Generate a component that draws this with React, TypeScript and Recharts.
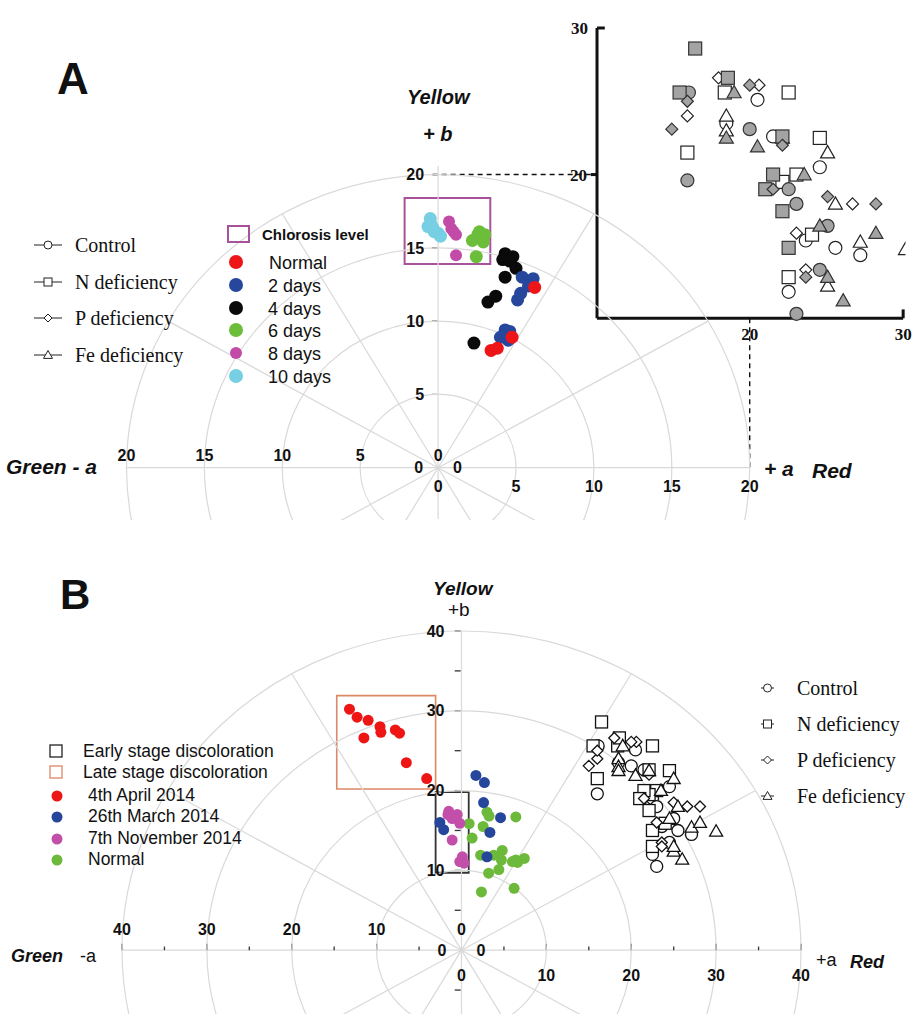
import React from 'react'
import { ScatterChart, Scatter, XAxis, YAxis, ReferenceLine, ReferenceDot, ReferenceArea } from 'recharts'

// ---- panel A: CIELab a*/b* of leaves by chlorosis level ----
const normalA = [{ a: 6.2, b: 12.3 }, { a: 3.4, b: 8.0 }, { a: 3.8, b: 8.15 }, { a: 4.75, b: 8.9 }]
const day2A = [{ a: 5.4, b: 13.0 }, { a: 6.1, b: 12.9 }, { a: 5.8, b: 12.4 }, { a: 5.3, b: 11.9 }, { a: 5.1, b: 11.45 }, { a: 4.3, b: 9.4 }, { a: 4.6, b: 9.3 }, { a: 4.5, b: 8.7 }, { a: 4.0, b: 8.9 }]
const day4A = [{ a: 4.3, b: 14.6 }, { a: 4.8, b: 14.4 }, { a: 4.15, b: 14.2 }, { a: 4.6, b: 14.1 }, { a: 5.0, b: 13.6 }, { a: 4.3, b: 13.0 }, { a: 3.7, b: 11.7 }, { a: 3.2, b: 11.3 }, { a: 2.3, b: 8.5 }]
const day6A = [{ a: 2.2, b: 15.5 }, { a: 2.55, b: 15.9 }, { a: 2.65, b: 16.1 }, { a: 2.9, b: 15.4 }, { a: 3.0, b: 15.9 }, { a: 2.8, b: 15.6 }, { a: 2.45, b: 14.4 }]
const day8A = [{ a: 0.7, b: 16.8 }, { a: 0.85, b: 16.3 }, { a: 1.0, b: 16.1 }, { a: 1.15, b: 15.9 }, { a: 1.15, b: 14.5 }]
const day10A = [{ a: -0.5, b: 17.0 }, { a: -0.65, b: 16.45 }, { a: -0.45, b: 16.6 }, { a: -0.25, b: 16.1 }, { a: 0.0, b: 16.0 }, { a: 0.15, b: 15.8 }, { a: -0.3, b: 16.3 }]

// nutrient deficiency leaves (inset of A, repeated in B)
const controlOpen = [{ a: 20.5, b: 25.1 }, { a: 18.5, b: 23.5 }, { a: 21.5, b: 22.6 }, { a: 24.5, b: 20.5 }, { a: 23.6, b: 15.5 }, { a: 25.5, b: 15.0 }, { a: 27.1, b: 14.5 }, { a: 22.5, b: 12.0 }]
const controlGrey = [{ a: 16.1, b: 25.6 }, { a: 20.0, b: 23.1 }, { a: 16.0, b: 19.6 }, { a: 22.5, b: 19.0 }, { a: 23.0, b: 18.0 }, { a: 25.0, b: 16.5 }, { a: 24.5, b: 13.5 }, { a: 23.0, b: 10.5 }]
const nOpen = [{ a: 18.4, b: 25.6 }, { a: 22.5, b: 25.6 }, { a: 16.0, b: 21.5 }, { a: 24.5, b: 22.5 }, { a: 23.0, b: 20.0 }, { a: 22.1, b: 19.5 }, { a: 24.0, b: 15.9 }, { a: 22.5, b: 13.0 }]
const nGrey = [{ a: 16.5, b: 28.6 }, { a: 18.6, b: 26.6 }, { a: 15.5, b: 25.6 }, { a: 22.1, b: 22.6 }, { a: 21.5, b: 20.0 }, { a: 21.0, b: 19.0 }, { a: 22.1, b: 17.5 }, { a: 22.5, b: 15.0 }]
const pOpen = [{ a: 18.0, b: 26.6 }, { a: 20.6, b: 26.1 }, { a: 16.0, b: 24.0 }, { a: 26.6, b: 18.0 }, { a: 23.0, b: 16.0 }, { a: 23.6, b: 13.5 }]
const pGrey = [{ a: 20.0, b: 26.1 }, { a: 16.0, b: 25.0 }, { a: 15.0, b: 23.1 }, { a: 22.1, b: 22.0 }, { a: 21.5, b: 19.0 }, { a: 25.0, b: 18.5 }, { a: 28.1, b: 18.0 }, { a: 23.6, b: 13.0 }]
const feOpen = [{ a: 18.5, b: 24.0 }, { a: 18.5, b: 23.0 }, { a: 22.1, b: 22.5 }, { a: 25.0, b: 21.5 }, { a: 25.5, b: 18.0 }, { a: 27.1, b: 15.4 }, { a: 30.0, b: 14.9 }, { a: 25.0, b: 12.4 }]
const feGrey = [{ a: 19.0, b: 25.6 }, { a: 18.5, b: 22.5 }, { a: 20.5, b: 21.9 }, { a: 23.5, b: 20.0 }, { a: 24.5, b: 16.5 }, { a: 28.1, b: 16.0 }, { a: 25.0, b: 13.0 }, { a: 26.0, b: 11.4 }]

// ---- panel B: field samples ----
const april4B = [{ a: -13.2, b: 30.2 }, { a: -12.3, b: 29.2 }, { a: -11.0, b: 28.8 }, { a: -11.5, b: 26.6 }, { a: -9.6, b: 28.0 }, { a: -9.5, b: 27.3 }, { a: -7.8, b: 27.6 }, { a: -7.3, b: 27.2 }, { a: -6.5, b: 23.5 }, { a: -4.1, b: 21.5 }]
const march26B = [{ a: 1.7, b: 21.9 }, { a: 2.7, b: 21.0 }, { a: 2.6, b: 18.5 }, { a: 4.6, b: 16.6 }, { a: 3.35, b: 14.75 }, { a: -2.55, b: 16.0 }, { a: -2.1, b: 15.1 }, { a: 3.0, b: 11.7 }]
const november7B = [{ a: -1.5, b: 17.4 }, { a: -0.5, b: 17.0 }, { a: -1.1, b: 16.5 }, { a: -0.2, b: 15.9 }, { a: -1.6, b: 17.0 }, { a: -1.1, b: 13.8 }, { a: 0.1, b: 11.7 }, { a: 0.3, b: 10.9 }, { a: -0.2, b: 11.1 }]
const normalB = [{ a: 0.9, b: 15.85 }, { a: 1.25, b: 14.05 }, { a: 2.55, b: 15.5 }, { a: 3.0, b: 17.3 }, { a: 3.25, b: 16.8 }, { a: 6.4, b: 16.7 }, { a: 2.25, b: 11.9 }, { a: 3.8, b: 11.9 }, { a: 4.8, b: 12.5 }, { a: 4.7, b: 11.3 }, { a: 3.2, b: 9.65 }, { a: 4.4, b: 10.1 }, { a: 6.4, b: 11.3 }, { a: 7.4, b: 11.5 }, { a: 6.2, b: 7.75 }, { a: 2.35, b: 7.3 }, { a: 6.0, b: 11.1 }, { a: 6.6, b: 11.0 }]

const ringsA = [5, 10, 15, 20]
const ringsB = [10, 20, 30, 40]
const spokeAngles = [30, 60, 120, 150, 210, 240, 300, 330]
const axisTicksA = [5, 10, 15, 20]
const axisTicksB = [10, 20, 30, 40]
const minorTicksB = [5, 15, 25, 35]

const legendA1 = ['Control', 'N deficiency', 'P deficiency', 'Fe deficiency']
const legendA2 = ['Normal', '2 days', '4 days', '6 days', '8 days', '10 days']
const legendB = ['4th April 2014', '26th March 2014', '7th November 2014', 'Normal']

const SANS = 'Arial, "Liberation Sans", Helvetica, sans-serif'
const SERIF = '"Times New Roman", "Liberation Serif", serif'
const GRID = '#d9d9d9'

const colA = ['#ee1518', '#27479d', '#0a0a0a', '#6cbd3a', '#c24ba8', '#76cfe2']
const colB = ['#ee1515', '#26469c', '#c24fa9', '#6cb93c']

const A = { w: 920, h: 520, ml: 126.5, mr: 14.5, mt: 28, mb: 1, x: [-20, 30], y: [-3.5, 30] }
const B = { w: 920, h: 444, ml: 122, mr: 119, mt: 61, mb: 0, x: [-40, 40], y: [-8, 40] }
// inset frame of panel A (in a*, b* units)
const INSET = { x0: 10.2, x1: 29.85, y0: 10.2, y1: 30 }

type Kind = 'circle' | 'square' | 'diamond' | 'triangle'
const KINDS: Kind[] = ['circle', 'square', 'diamond', 'triangle']

function drawShape(kind: Kind, cx: number, cy: number, s: number, fill: string, stroke: string, sw: number) {
  const h = s / 2
  if (kind === 'circle') return <circle cx={cx} cy={cy} r={h} fill={fill} stroke={stroke} strokeWidth={sw} />
  if (kind === 'square') return <rect x={cx - h} y={cy - h} width={s} height={s} fill={fill} stroke={stroke} strokeWidth={sw} />
  if (kind === 'diamond')
    return <polygon points={`${cx},${cy - h} ${cx + h},${cy} ${cx},${cy + h} ${cx - h},${cy}`} fill={fill} stroke={stroke} strokeWidth={sw} />
  return <polygon points={`${cx},${cy - h} ${cx + h},${cy + h * 0.75} ${cx - h},${cy + h * 0.75}`} fill={fill} stroke={stroke} strokeWidth={sw} />
}

const marker = (kind: Kind, s: number, fill: string, stroke: string, sw = 1.2) => (p: any) =>
  drawShape(kind, p.cx, p.cy, s, fill, stroke, sw)

const dot = (r: number, fill: string) => (p: any) => <circle cx={p.cx} cy={p.cy} r={r} fill={fill} />

function rings(list: number[], sx: number, sy: number) {
  return list.map((r) => (
    <ReferenceDot
      key={'ring' + r}
      x={0}
      y={0}
      r={r}
      ifOverflow="visible"
      shape={(p: any) => <ellipse cx={p.cx} cy={p.cy} rx={r * sx} ry={r * sy} fill="none" stroke={GRID} strokeWidth={1.2} />}
    />
  ))
}

function spokes(len: number) {
  return spokeAngles.map((t) => {
    const rad = (t * Math.PI) / 180
    return (
      <ReferenceLine
        key={'sp' + t}
        segment={[{ x: 0, y: 0 }, { x: len * Math.cos(rad), y: len * Math.sin(rad) }]}
        stroke={GRID}
        strokeWidth={1.2}
        ifOverflow="visible"
      />
    )
  })
}

function seg(key: string, x1: number, y1: number, x2: number, y2: number, stroke: string, sw: number, dash?: string) {
  return (
    <ReferenceLine key={key} segment={[{ x: x1, y: y1 }, { x: x2, y: y2 }]} stroke={stroke} strokeWidth={sw} strokeDasharray={dash} ifOverflow="visible" />
  )
}

function lab(key: string, x: number, y: number, value: string, position: string, offset: number, size = 16, family = SANS) {
  return (
    <ReferenceDot
      key={key}
      x={x}
      y={y}
      r={0}
      fill="none"
      stroke="none"
      ifOverflow="visible"
      label={{ value, position, offset, fill: '#111', fontSize: size, fontWeight: 'bold', fontFamily: family } as any}
    />
  )
}

function PanelA() {
  const sx = (A.w - A.ml - A.mr) / (A.x[1] - A.x[0])
  const sy = (A.h - A.mt - A.mb) / (A.y[1] - A.y[0])
  const greys = [controlGrey, nGrey, pGrey, feGrey]
  const opens = [controlOpen, nOpen, pOpen, feOpen]
  const sizes = [13, 13, 12, 14]
  const I = INSET
  return (
    <ScatterChart width={A.w} height={A.h} margin={{ top: A.mt, right: A.mr, bottom: A.mb, left: A.ml }}>
      <XAxis type="number" dataKey="a" domain={A.x} allowDataOverflow hide />
      <YAxis type="number" dataKey="b" domain={A.y} allowDataOverflow hide />
      {rings(ringsA, sx, sy)}
      {spokes(20)}
      {seg('hx', -20, 0, 20, 0, GRID, 1.2)}
      {seg('vy', 0, -3.5, 0, 20.6, GRID, 1.2)}
      {axisTicksA.map((v) => seg('tk' + v, -0.4, v, -0.05, v, '#333', 1.2))}
      {axisTicksA.map((v) => lab('yl' + v, 0, v, String(v), 'left', 14))}
      {axisTicksA.map((v) => lab('xl' + v, -v, 0, String(v), 'top', 7))}
      {axisTicksA.map((v) => lab('xr' + v, v, 0, String(v), 'bottom', 13))}
      {lab('z1', 0, 0, '0', 'top', 7)}
      {lab('z2', 0, 0, '0', 'left', 15)}
      {lab('z3', 0, 0, '0', 'right', 15)}
      {lab('z4', 0, 0, '0', 'bottom', 13)}
      {/* inset frame */}
      {seg('dh', -0.35, 20, I.x0, 20, '#111', 1.4, '5 4')}
      {seg('dv', 20, I.y0, 20, 0, '#111', 1.4, '5 4')}
      {seg('ix', I.x0, I.y0, I.x1, I.y0, '#111', 3)}
      {seg('iy', I.x0, I.y0, I.x0, I.y1, '#111', 3)}
      {seg('it1', I.x0, I.y1, I.x0 + 0.5, I.y1, '#111', 3)}
      {seg('it2', I.x0 - 0.4, 20, I.x0, 20, '#111', 3)}
      {seg('it3', I.x1, I.y0, I.x1, I.y0 + 0.6, '#111', 3)}
      {lab('il1', I.x0, I.y1, '30', 'left', 9, 17, SERIF)}
      {lab('il2', I.x0, 20, '20', 'left', 10, 17, SERIF)}
      {lab('il3', 20, I.y0, '20', 'bottom', 10, 17, SERIF)}
      {lab('il4', I.x1, I.y0, '30', 'bottom', 10, 17, SERIF)}
      {opens.map((d, i) => (
        <Scatter key={'o' + i} data={d} dataKey="b" isAnimationActive={false} shape={marker(KINDS[i], sizes[i], '#fff', '#222')} />
      ))}
      {greys.map((d, i) => (
        <Scatter key={'g' + i} data={d} dataKey="b" isAnimationActive={false} shape={marker(KINDS[i], sizes[i], '#a3a3a3', '#333')} />
      ))}
      <Scatter data={day10A} isAnimationActive={false} shape={dot(6.5, colA[5])} />
      <Scatter data={day8A} isAnimationActive={false} shape={dot(6, colA[4])} />
      <Scatter data={day6A} isAnimationActive={false} shape={dot(6.5, colA[3])} />
      <Scatter data={day4A} isAnimationActive={false} shape={dot(6.5, colA[2])} />
      <Scatter data={day2A} isAnimationActive={false} shape={dot(6.5, colA[1])} />
      <Scatter data={normalA} isAnimationActive={false} shape={dot(6.5, colA[0])} />
      <ReferenceArea x1={-2.15} x2={3.35} y1={13.9} y2={18.4} fill="none" stroke="#a8529b" strokeWidth={2} ifOverflow="visible" />
    </ScatterChart>
  )
}

function PanelB() {
  const sx = (B.w - B.ml - B.mr) / (B.x[1] - B.x[0])
  const sy = (B.h - B.mt - B.mb) / (B.y[1] - B.y[0])
  const groups = [
    [...controlOpen, ...controlGrey],
    [...nOpen, ...nGrey],
    [...pOpen, ...pGrey],
    [...feOpen, ...feGrey],
  ]
  const sizes = [12, 12, 11, 13]
  return (
    <ScatterChart width={B.w} height={B.h} margin={{ top: B.mt, right: B.mr, bottom: B.mb, left: B.ml }}>
      <XAxis type="number" dataKey="a" domain={B.x} allowDataOverflow hide />
      <YAxis type="number" dataKey="b" domain={B.y} allowDataOverflow hide />
      {rings(ringsB, sx, sy)}
      {spokes(40)}
      {seg('hx', -40, 0, 40, 0, GRID, 1.2)}
      {seg('vy', 0, -8, 0, 40, GRID, 1.2)}
      {[...axisTicksB, ...minorTicksB, -5].map((v) => seg('ty' + v, -0.8, v, -0.1, v, '#333', 1.3))}
      {axisTicksB.map((v) => lab('yl' + v, 0, v, String(v), 'left', 17))}
      {[...axisTicksB, ...minorTicksB].map((v) => [
        seg('txl' + v, -v, 0, -v, v % 10 === 0 ? 0.8 : 0.45, '#333', 1.3),
        seg('txr' + v, v, 0, v, v % 10 === 0 ? 0.8 : 0.45, '#333', 1.3),
      ])}
      {axisTicksB.map((v) => lab('xl' + v, -v, 0, String(v), 'top', 15))}
      {axisTicksB.map((v) => lab('xr' + v, v, 0, String(v), 'bottom', 19))}
      {lab('z1', 0, 0, '0', 'top', 15)}
      {lab('z2', 0, 0, '0', 'left', 15)}
      {lab('z3', 0, 0, '0', 'right', 15)}
      {lab('z4', 0, 0, '0', 'bottom', 19)}
      {groups.map((d, i) => (
        <Scatter key={'d' + i} data={d} isAnimationActive={false} shape={marker(KINDS[i], sizes[i], '#fff', '#111', 1.3)} />
      ))}
      <Scatter data={normalB} isAnimationActive={false} shape={dot(5.5, colB[3])} />
      <Scatter data={march26B} isAnimationActive={false} shape={dot(5.5, colB[1])} />
      <Scatter data={november7B} isAnimationActive={false} shape={dot(5.5, colB[2])} />
      <Scatter data={april4B} isAnimationActive={false} shape={dot(5.5, colB[0])} />
      <ReferenceArea x1={-14.7} x2={-3.05} y1={20.2} y2={31.9} fill="none" stroke="#dc8866" strokeWidth={1.6} ifOverflow="visible" />
      <ReferenceArea x1={-3.05} x2={0.85} y1={9.7} y2={19.8} fill="none" stroke="#333" strokeWidth={1.8} ifOverflow="visible" />
    </ScatterChart>
  )
}

function T({ x, y, size, children, bold, italic, family = SANS }: any) {
  return (
    <div
      style={{
        position: 'absolute',
        left: x,
        top: y,
        transform: 'translateY(-50%)',
        fontSize: size,
        lineHeight: 1,
        whiteSpace: 'nowrap',
        fontWeight: bold ? 'bold' : 'normal',
        fontStyle: italic ? 'italic' : 'normal',
        fontFamily: family,
        color: '#111',
      }}
    >
      {children}
    </div>
  )
}

function Sym({ x, y, kind, line, w = 30, s = 8 }: any) {
  return (
    <svg style={{ position: 'absolute', left: x - w / 2, top: y - 8 }} width={w} height={16}>
      {line && <line x1={0} y1={8} x2={w} y2={8} stroke="#222" strokeWidth={1} />}
      {drawShape(kind, w / 2, 8, s, '#fff', '#222', 1)}
    </svg>
  )
}

export default function App() {
  return (
    <div style={{ position: 'absolute', left: 0, top: 0, width: 920, height: 1014, background: '#fff', overflow: 'hidden' }}>
      <div style={{ position: 'absolute', left: 0, top: 0, width: 920, height: 520, overflow: 'hidden' }}>
        <PanelA />
      </div>
      <div style={{ position: 'absolute', left: 0, top: 570, width: 920, height: 444, overflow: 'hidden' }}>
        <PanelB />
      </div>

      {/* panel A texts */}
      <T x={57} y={79} size={44} bold>A</T>
      <T x={407} y={97} size={20} bold italic>Yellow</T>
      <T x={423} y={134} size={20} bold italic>+ b</T>
      <T x={6} y={466} size={21} bold italic>Green - a</T>
      <T x={764} y={468} size={21} bold italic>+ a</T>
      <T x={812} y={470} size={21} bold italic>Red</T>
      {legendA1.map((t, i) => (
        <React.Fragment key={t}>
          <Sym x={48} y={245 + i * 36.5} kind={KINDS[i]} line w={28} s={i === 3 ? 9 : 8} />
          <T x={75} y={245 + i * 36.5} size={20} family={SERIF}>{t}</T>
        </React.Fragment>
      ))}
      <svg style={{ position: 'absolute', left: 227, top: 225 }} width={24} height={19}>
        <rect x={1} y={1} width={21} height={16} fill="none" stroke="#a8529b" strokeWidth={2} />
      </svg>
      <T x={262} y={234} size={15} bold>Chlorosis level</T>
      {legendA2.map((t, i) => (
        <React.Fragment key={t}>
          <svg style={{ position: 'absolute', left: 228, top: 254 + i * 22.8 }} width={16} height={16}>
            <circle cx={8} cy={8} r={i === 4 ? 6 : 7} fill={colA[i]} />
          </svg>
          <T x={i === 0 ? 269 : 268} y={263 + i * 22.8} size={18}>{t}</T>
        </React.Fragment>
      ))}

      {/* panel B texts */}
      <T x={60} y={595} size={42} bold>B</T>
      <T x={433} y={588} size={19} bold italic>Yellow</T>
      <T x={448} y={609} size={19}>+b</T>
      <T x={11} y={956} size={18} bold italic>Green</T>
      <T x={80} y={956} size={18}>-a</T>
      <T x={816} y={960} size={18}>+a</T>
      <T x={850} y={962} size={18} bold italic>Red</T>
      {legendA1.map((t, i) => (
        <React.Fragment key={'b' + t}>
          <Sym x={767} y={688 + i * 36} kind={KINDS[i]} line w={13} s={i === 3 ? 9 : 8} />
          <T x={797} y={688 + i * 36} size={20} family={SERIF}>{t}</T>
        </React.Fragment>
      ))}
      <svg style={{ position: 'absolute', left: 49, top: 744 }} width={16} height={36}>
        <rect x={1} y={1} width={12} height={12} fill="none" stroke="#222" strokeWidth={1.3} />
        <rect x={1} y={22} width={12} height={12} fill="none" stroke="#dc8866" strokeWidth={1.3} />
      </svg>
      <T x={83} y={752} size={17.5}>Early stage discoloration</T>
      <T x={83} y={773} size={17.5}>Late stage discoloration</T>
      {legendB.map((t, i) => (
        <React.Fragment key={t}>
          <svg style={{ position: 'absolute', left: 51, top: 790 + i * 21.3 }} width={12} height={12}>
            <circle cx={6} cy={6} r={5.5} fill={colB[i]} />
          </svg>
          <T x={88} y={796 + i * 21.3} size={17.5}>{t}</T>
        </React.Fragment>
      ))}
    </div>
  )
}
